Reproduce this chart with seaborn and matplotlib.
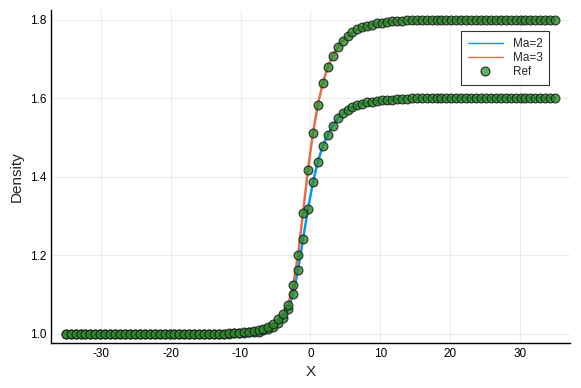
import matplotlib
matplotlib.use("Agg")
import matplotlib.pyplot as plt
import numpy as np
import pandas as pd
import seaborn as sns

# x grid of the profile (100 evenly spaced cells from -35 to 35)
x = np.linspace(-35, 35, 100)

# density, left to right
ma2_left = [1.0] * 34 + [1.001, 1.001, 1.002, 1.003, 1.004, 1.005, 1.008, 1.012,
                         1.018, 1.026, 1.040, 1.062, 1.100, 1.163, 1.240, 1.317]
ma2_right = [1.385, 1.438, 1.478, 1.506, 1.530, 1.548, 1.561, 1.570, 1.577, 1.582,
             1.586, 1.589, 1.591, 1.593, 1.594, 1.595, 1.596, 1.597, 1.598, 1.598,
             1.599, 1.599] + [1.6] * 28
ma3_left = [1.0] * 33 + [1.001, 1.001, 1.002, 1.003, 1.004, 1.006, 1.008, 1.011, 1.017,
                         1.025, 1.036, 1.051, 1.074, 1.123, 1.201, 1.307, 1.417]
ma3_right = [1.510, 1.583, 1.638, 1.678, 1.708, 1.729, 1.746, 1.758, 1.767, 1.775,
             1.780, 1.784, 1.787, 1.790, 1.792, 1.794, 1.795, 1.796, 1.797, 1.798,
             1.798, 1.799] + [1.8] * 28

ma2 = ma2_left + ma2_right
ma3 = ma3_left + ma3_right

df = pd.DataFrame({"X": np.concatenate([x, x]),
                   "Density": ma2 + ma3,
                   "case": ["Ma=2"] * 100 + ["Ma=3"] * 100})

sns.set_style("white")
plt.rcParams['font.family'] = ['Liberation Sans', 'DejaVu Sans']
plt.rcParams['axes.unicode_minus'] = False

fig = plt.figure(figsize=(5.81, 3.88), dpi=100)
ax = fig.add_axes([0.0878, 0.116, 0.893, 0.858])

sns.lineplot(data=df, x="X", y="Density", hue="case",
             palette={"Ma=2": "#009AFA", "Ma=3": "#E36F47"},
             linewidth=1.8, ax=ax, zorder=2)
sns.scatterplot(data=df, x="X", y="Density", color="#2c8c2c", alpha=0.8,
                s=40, edgecolor="#1a1a1a", linewidth=0.9, label="Ref",
                ax=ax, zorder=3)

ax.set_xlim(-37.1, 37.1)
ax.set_ylim(0.976, 1.824)
ax.set_xticks([-30, -20, -10, 0, 10, 20, 30])
ax.set_yticks([1.0, 1.2, 1.4, 1.6, 1.8])
ax.set_yticklabels(["1.0", "1.2", "1.4", "1.6", "1.8"])
ax.grid(True, color="black", alpha=0.07, linewidth=0.8)
ax.tick_params(direction="in", length=4, labelsize=8.5, width=0.8, colors="black")
for side in ["top", "right"]:
    ax.spines[side].set_visible(False)
for side in ["left", "bottom"]:
    ax.spines[side].set_color("black")
    ax.spines[side].set_linewidth(1.0)
ax.set_xlabel("X", fontsize=11)
ax.set_ylabel("Density", fontsize=11)

leg = ax.legend(loc="upper right", bbox_to_anchor=(0.972, 0.955), fontsize=8.5,
                frameon=True, fancybox=False, edgecolor="black",
                handlelength=3.0, borderpad=0.6, labelspacing=0.15)
leg.get_frame().set_linewidth(0.8)
for h in leg.legend_handles[:2]:
    h.set_linewidth(1.0)
ref_handle = leg.legend_handles[2]
if hasattr(ref_handle, "set_markerfacecolor"):
    ref_handle.set_alpha(1.0)
    ref_handle.set_markerfacecolor("#5cb565")
    ref_handle.set_markeredgecolor("#333333")
else:
    ref_handle.set_alpha(1.0)
    ref_handle.set_facecolor("#5cb565")
    ref_handle.set_edgecolor("#333333")

fig.savefig("out.png", dpi=100)
